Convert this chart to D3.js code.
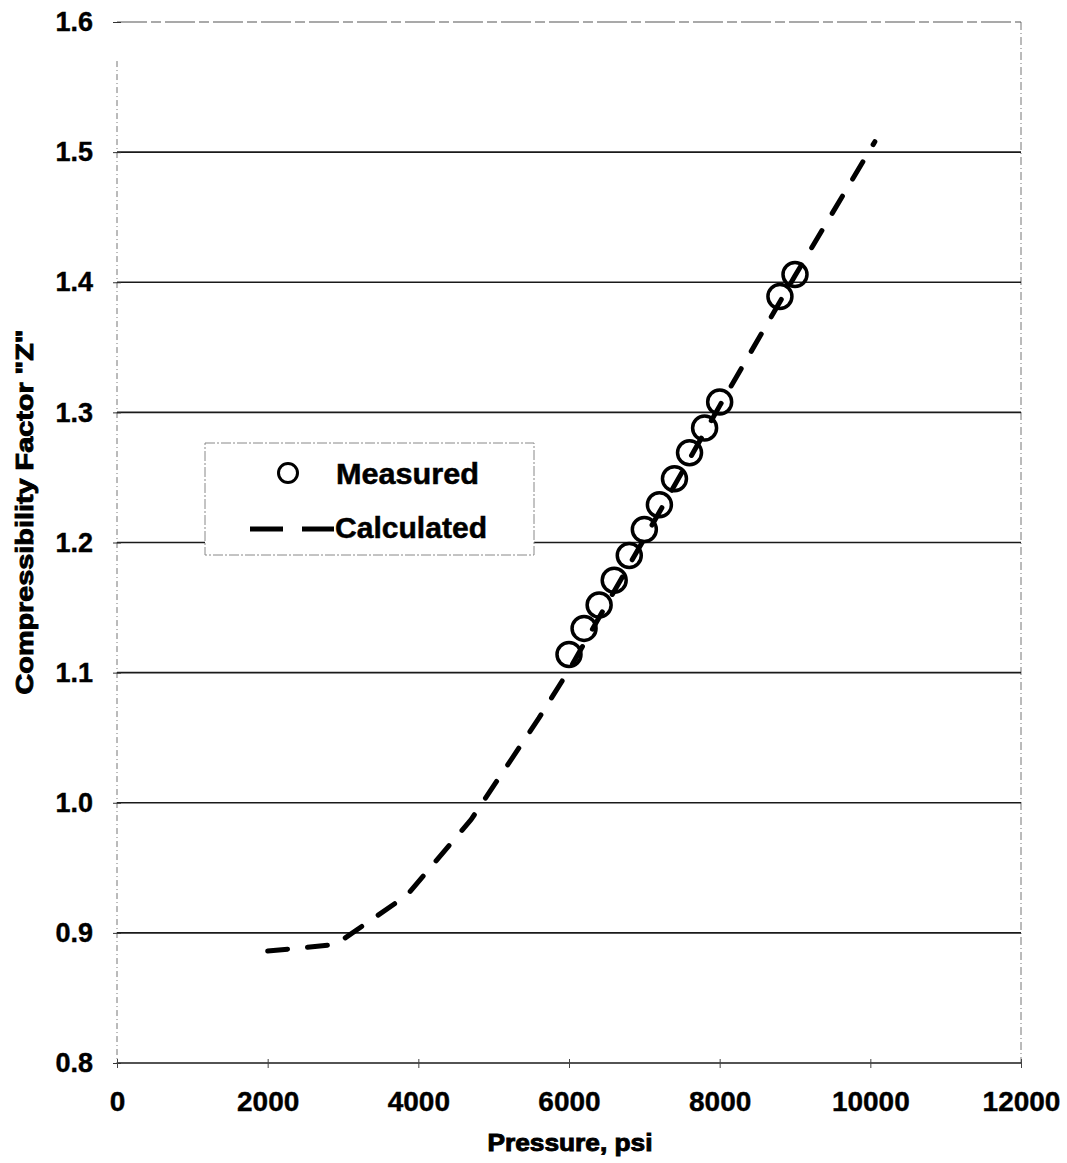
<!DOCTYPE html>
<html>
<head>
<meta charset="utf-8">
<script src="https://cdn.jsdelivr.net/npm/d3@7/dist/d3.min.js"></script>
<style>
  html, body { margin: 0; padding: 0; background: #fff; }
  svg { display: block; font-family: "Liberation Sans", Arial, sans-serif; }
</style>
</head>
<body>
<svg id="chart" width="1067" height="1163"></svg>
<script>
// Measured compressibility factor vs pressure
const measuredPressure = [6000, 6200, 6400, 6600, 6800, 7000, 7200, 7400, 7600, 7800, 8000, 8800, 9000];
const measuredZ        = [1.114, 1.134, 1.152, 1.171, 1.190, 1.210, 1.229, 1.249, 1.269, 1.288, 1.308, 1.389, 1.406];

// Calculated curve
const calcPressure = [2000, 2900, 3850, 4700, 4850, 5600, 6000, 7000, 8000, 9000, 10060];
const calcZ        = [0.886, 0.891, 0.929, 0.987, 1.000, 1.065, 1.102, 1.203, 1.305, 1.405, 1.508];

// Axis ticks
const xTicks = [0, 2000, 4000, 6000, 8000, 10000, 12000];
const yTicks = [0.8, 0.9, 1.0, 1.1, 1.2, 1.3, 1.4, 1.5, 1.6];

const svg = d3.select("#chart");
const plotLeft = 117, plotRight = 1021, plotTop = 22, plotBottom = 1063;

const x = d3.scaleLinear().domain([0, 12000]).range([plotLeft, plotRight]);
const y = d3.scaleLinear().domain([0.8, 1.6]).range([plotBottom, plotTop]);

// Plot frame: faint dotted side borders
svg.append("line").attr("x1", plotLeft).attr("x2", plotLeft).attr("y1", y(1.57)).attr("y2", plotBottom)
  .attr("stroke", "#777").attr("stroke-width", 1).attr("stroke-dasharray", "6,3,1,3");
svg.append("line").attr("x1", plotRight).attr("x2", plotRight).attr("y1", plotTop).attr("y2", plotBottom)
  .attr("stroke", "#777").attr("stroke-width", 1).attr("stroke-dasharray", "8,3,1,3");

// Horizontal gridlines
svg.append("g").selectAll("line").data(yTicks).join("line")
  .attr("x1", plotLeft).attr("x2", plotRight)
  .attr("y1", d => y(d)).attr("y2", d => y(d))
  .attr("stroke", d => d === 1.6 ? "#555" : "#1a1a1a")
  .attr("stroke-width", d => d === 1.6 ? 1.2 : 1.6)
  .attr("stroke-dasharray", d => d === 1.6 ? "30,4,10,4" : null);

// Y axis ticks and labels
const yAxis = d3.axisLeft(y).tickValues(yTicks).tickFormat(d3.format(".1f")).tickSize(4).tickPadding(20);
const gy = svg.append("g").attr("transform", `translate(${plotLeft},0)`).call(yAxis);
gy.select(".domain").remove();
gy.selectAll(".tick line").attr("stroke", "#333").attr("x2", 4).attr("x1", -4);
gy.selectAll(".tick text").attr("font-size", 27).attr("font-weight", "bold")
  .attr("fill", "#000").attr("stroke", "#000").attr("stroke-width", 0.4)
  .attr("font-family", "'Liberation Sans', Arial, sans-serif");

// X axis ticks and labels
const xAxis = d3.axisBottom(x).tickValues(xTicks).tickFormat(d3.format("d")).tickSize(6).tickPadding(22);
const gx = svg.append("g").attr("transform", `translate(0,${plotBottom})`).call(xAxis);
gx.select(".domain").remove();
gx.selectAll(".tick line").attr("stroke", "#444").attr("y1", -4).attr("y2", 5);
gx.selectAll(".tick text").attr("font-size", 28).attr("font-weight", "bold")
  .attr("fill", "#000").attr("stroke", "#000").attr("stroke-width", 0.4)
  .attr("font-family", "'Liberation Sans', Arial, sans-serif");

// Axis titles
svg.append("text").attr("x", 570).attr("y", 1151).attr("text-anchor", "middle")
  .attr("font-size", 23).attr("font-weight", "bold").attr("stroke", "#000").attr("stroke-width", 0.9)
  .attr("textLength", 165).attr("lengthAdjust", "spacingAndGlyphs")
  .text("Pressure, psi");
svg.append("text").attr("transform", "translate(33,512) rotate(-90)").attr("text-anchor", "middle")
  .attr("font-size", 23).attr("font-weight", "bold").attr("stroke", "#000").attr("stroke-width", 0.9)
  .attr("textLength", 365).attr("lengthAdjust", "spacingAndGlyphs")
  .text('Compressibility Factor "Z"');

// Calculated curve (dashed)
const line = d3.line().x((d, i) => x(calcPressure[i])).y((d, i) => y(calcZ[i]));
svg.append("path").datum(calcZ).attr("d", line)
  .attr("fill", "none").attr("stroke", "#000").attr("stroke-width", 5)
  .attr("stroke-linecap", "round").attr("stroke-linejoin", "round")
  .attr("stroke-dasharray", "20,20");

// Measured points
svg.append("g").selectAll("circle").data(measuredZ).join("circle")
  .attr("cx", (d, i) => x(measuredPressure[i])).attr("cy", d => y(d))
  .attr("r", 12).attr("fill", "none").attr("stroke", "#000").attr("stroke-width", 3.5);

// Legend
const lg = svg.append("g");
lg.append("rect").attr("x", 205).attr("y", 443).attr("width", 329).attr("height", 112)
  .attr("fill", "#fff").attr("stroke", "#888").attr("stroke-width", 1).attr("stroke-dasharray", "10,2,2,2");
lg.append("circle").attr("cx", 288).attr("cy", 473).attr("r", 9.5)
  .attr("fill", "none").attr("stroke", "#000").attr("stroke-width", 3);
lg.append("text").attr("x", 336).attr("y", 484).attr("font-size", 29).attr("font-weight", "bold")
  .attr("stroke", "#000").attr("stroke-width", 0.5)
  .attr("textLength", 143).attr("lengthAdjust", "spacingAndGlyphs").text("Measured");
lg.append("line").attr("x1", 250).attr("x2", 334).attr("y1", 529).attr("y2", 529)
  .attr("stroke", "#000").attr("stroke-width", 5).attr("stroke-dasharray", "33,19");
lg.append("text").attr("x", 335).attr("y", 538).attr("font-size", 29).attr("font-weight", "bold")
  .attr("stroke", "#000").attr("stroke-width", 0.5)
  .attr("textLength", 152).attr("lengthAdjust", "spacingAndGlyphs").text("Calculated");
</script>
</body>
</html>
